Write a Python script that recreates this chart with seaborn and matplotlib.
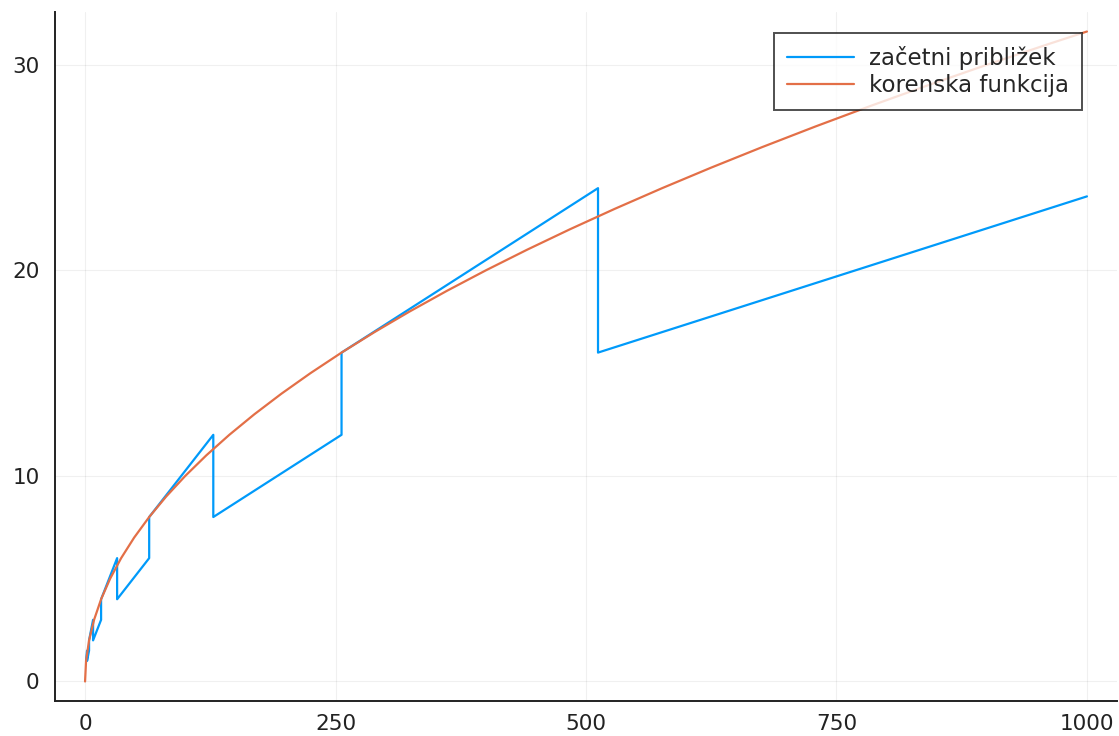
import matplotlib
matplotlib.use("Agg")
import matplotlib.pyplot as plt
import pandas as pd
import seaborn as sns

# initial approximation (piecewise linear vertices)
approx_x = [1, 2, 2, 4, 4, 8, 8, 16, 16, 32, 32, 64, 64, 128, 128, 256, 256, 512, 512, 1000]
approx_y = [1, 1.5, 1, 1.5, 2, 3, 2, 3, 4, 6, 4, 6, 8, 12, 8, 12, 16, 24, 16, 23.6]

# square root curve
root_x = [0, 1, 4, 9, 16, 25, 36, 49, 64, 81, 100, 121, 144, 169, 196, 225, 256, 289, 324,
          361, 400, 441, 484, 529, 576, 625, 676, 729, 784, 841, 900, 961, 1000]
root_y = [0, 1, 2, 3, 4, 5, 6, 7, 8, 9, 10, 11, 12, 13, 14, 15, 16, 17, 18,
          19, 20, 21, 22, 23, 24, 25, 26, 27, 28, 29, 30, 31, 31.62]

labels = ["začetni približek", "korenska funkcija"]
colors = ["#009AFA", "#E36F47"]

sns.set_style("white")
plt.rcParams["font.family"] = ["DejaVu Sans"]

df_approx = pd.DataFrame({"x": approx_x, "y": approx_y})
df_root = pd.DataFrame({"x": root_x, "y": root_y})

fig = plt.figure(figsize=(11.19, 7.36), dpi=100)
ax = fig.add_axes([55 / 1119, 1 - 701 / 736, (1117 - 55) / 1119, (701 - 12) / 736])

sns.lineplot(data=df_approx, x="x", y="y", ax=ax, color=colors[0], linewidth=1.6,
             label=labels[0], sort=False, estimator=None)
sns.lineplot(data=df_root, x="x", y="y", ax=ax, color=colors[1], linewidth=1.6,
             label=labels[1], sort=False, estimator=None)

ax.set_xlim(-30, 1030)
ax.set_ylim(-0.95, 32.57)
ax.set_xticks([0, 250, 500, 750, 1000])
ax.set_yticks([0, 10, 20, 30])
ax.set_xlabel("")
ax.set_ylabel("")
ax.grid(True, color="black", alpha=0.06, linewidth=0.8)

for side in ["top", "right"]:
    ax.spines[side].set_visible(False)
for side in ["left", "bottom"]:
    ax.spines[side].set_color("#222222")
    ax.spines[side].set_linewidth(1.4)

ax.tick_params(direction="in", length=6, width=1.3, color="#222222",
               labelsize=15.5, labelcolor="#222222")
ax.tick_params(axis="y", pad=11)
ax.tick_params(axis="x", pad=9)

leg = ax.legend(loc="upper right", bbox_to_anchor=(0.967, 0.9695), fontsize=16.5,
                frameon=True, fancybox=False, handlelength=2.95, borderpad=0.55,
                labelspacing=0.2, handletextpad=0.65, borderaxespad=0)
leg.get_frame().set_edgecolor("#222222")
leg.get_frame().set_linewidth(1.4)

fig.savefig("out.png", dpi=100)
